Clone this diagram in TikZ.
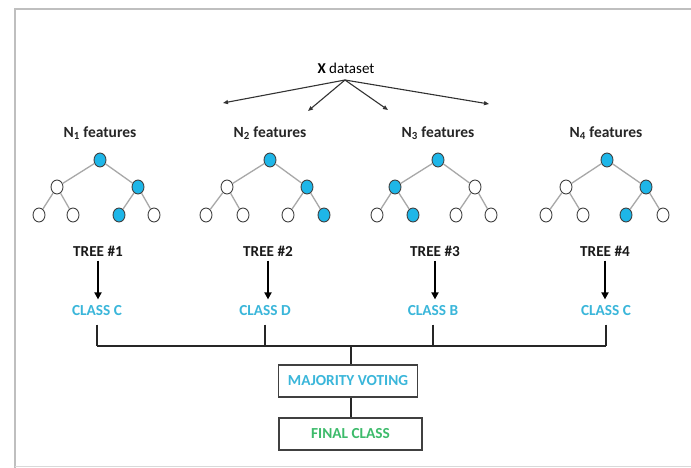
\documentclass[tikz,border=0pt]{standalone}
\usepackage{fontspec}
\setmainfont{Carlito}
\usetikzlibrary{arrows.meta,shapes.geometric}
\definecolor{nodeblue}{HTML}{1EB6E8}
\definecolor{classblue}{HTML}{3AB6DA}
\definecolor{finalgreen}{HTML}{3DBB6B}
\definecolor{linkgray}{HTML}{A8A8A8}
\begin{document}
\begin{tikzpicture}[x=1pt,y=-1pt,
  tn/.style={ellipse, draw=black!75, line width=0.9pt, minimum width=12pt,
             minimum height=14pt, inner sep=0pt, fill=white},
  on/.style={tn, fill=nodeblue},
  link/.style={draw=linkgray, line width=1.3pt},
  feat/.style={font=\fontsize{15.5}{17}\selectfont\bfseries, text=black!85},
  treelbl/.style={font=\fontsize{15.2}{17}\selectfont\bfseries, text=black!90},
  cls/.style={font=\fontsize{15.3}{17}\selectfont\bfseries, text=classblue},
  box/.style={draw=black!75, line width=1.2pt, minimum height=32pt, inner sep=0pt},
  wire/.style={draw=black!85, line width=1.3pt},
  split/.style={draw=black!80, line width=1.1pt, -{Triangle[length=5pt,width=4pt]}},
  down/.style={draw=black, line width=1.8pt, -{Triangle[length=7pt,width=7pt]}}
]
\useasboundingbox (0,0) rectangle (691,468);
\fill[white] (0,0) rectangle (691,468);
% page frame
\draw[black!25, line width=1.2pt] (15,468) -- (15,9) -- (691,9);
\draw[black!15, line width=0.8pt] (15,466.5) -- (691,466.5);

% dataset and its split arrows
\node[font=\fontsize{15}{17}\selectfont] (data) at (346,68) {\textbf{X} dataset};
\coordinate (src) at (345,80);
\coordinate (d1) at (223,103);
\coordinate (d2) at (308,111);
\coordinate (d3) at (388,110);
\coordinate (d4) at (489,104);
\foreach \d in {d1,d2,d3,d4} \draw[split] (src) -- (\d);

% feature labels
\node[feat] (f1) at (100,133) {N\textsubscript{1} features};
\node[feat] (f2) at (270,133) {N\textsubscript{2} features};
\node[feat] (f3) at (438,133) {N\textsubscript{3} features};
\node[feat] (f4) at (606,133) {N\textsubscript{4} features};

% tree 1
\node[on] (a0) at (100,160) {};
\node[tn] (aL) at (57,187) {};
\node[on] (aR) at (138,187) {};
\node[tn] (a1) at (39,215) {};
\node[tn] (a2) at (73,215) {};
\node[on] (a3) at (119,215) {};
\node[tn] (a4) at (154,215) {};
% tree 2
\node[on] (b0) at (270,160) {};
\node[tn] (bL) at (227,187) {};
\node[on] (bR) at (307,187) {};
\node[tn] (b1) at (206,215) {};
\node[tn] (b2) at (243,215) {};
\node[tn] (b3) at (288,215) {};
\node[on] (b4) at (324,215) {};
% tree 3
\node[on] (c0) at (438,160) {};
\node[on] (cL) at (395,187) {};
\node[tn] (cR) at (475,187) {};
\node[tn] (c1) at (377,215) {};
\node[on] (c2) at (413,215) {};
\node[tn] (c3) at (456,215) {};
\node[tn] (c4) at (491,215) {};
% tree 4
\node[on] (e0) at (607,160) {};
\node[tn] (eL) at (566,187) {};
\node[on] (eR) at (646,187) {};
\node[tn] (e1) at (546,215) {};
\node[tn] (e2) at (583,215) {};
\node[on] (e3) at (626,215) {};
\node[tn] (e4) at (663,215) {};

\foreach \t in {a,b,c,e} {
  \draw[link] (\t0) -- (\t L);
  \draw[link] (\t0) -- (\t R);
  \draw[link] (\t L) -- (\t1);
  \draw[link] (\t L) -- (\t2);
  \draw[link] (\t R) -- (\t3);
  \draw[link] (\t R) -- (\t4);
}

% tree labels and their predictions
\node[treelbl] (t1) at (98,251) {TREE \#1};
\node[treelbl] (t2) at (268,251) {TREE \#2};
\node[treelbl] (t3) at (435,251) {TREE \#3};
\node[treelbl] (t4) at (605,251) {TREE \#4};

\node[cls] (k1) at (97,311) {CLASS C};
\node[cls] (k2) at (265,311) {CLASS D};
\node[cls] (k3) at (433,311) {CLASS B};
\node[cls] (k4) at (606,311) {CLASS C};

\foreach \i in {1,2,3,4}
  \draw[down, shorten <=1pt, shorten >=3pt] (t\i.south) -- (t\i.south |- k\i.north);

% voting bus
\coordinate (bus1) at (97,346);
\coordinate (bus2) at (265,346);
\coordinate (bus3) at (433,346);
\coordinate (bus4) at (606,346);
\coordinate (busc) at (351,346);
\foreach \i in {1,2,3,4}
  \draw[wire, shorten <=5pt] (k\i.south) -- (bus\i);
\draw[wire] (bus1) -- (bus4);

\node[box, minimum width=139pt, font=\fontsize{15.3}{17}\selectfont\bfseries, text=classblue]
  (vote) at (348,381) {MAJORITY VOTING};
\node[box, minimum width=143pt, font=\fontsize{15.3}{17}\selectfont\bfseries, text=finalgreen]
  (final) at (350.5,434) {FINAL CLASS};

\draw[wire] (busc) -- (busc |- vote.north);
\draw[wire] (vote.south -| busc) -- (final.north -| busc);
\end{tikzpicture}
\end{document}
